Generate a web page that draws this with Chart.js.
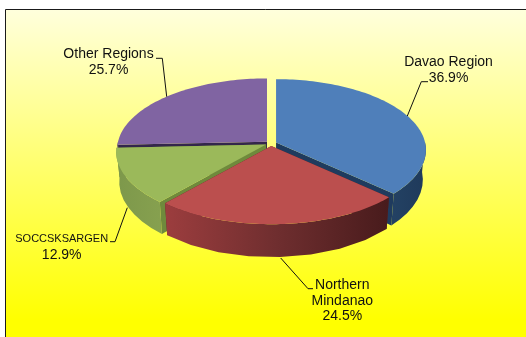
<!DOCTYPE html>
<html>
<head>
<meta charset="utf-8">
<title>Regional shares</title>
<script src="https://cdn.jsdelivr.net/npm/chart.js@4"></script>
<style>
html,body{margin:0;padding:0;background:#fff;overflow:hidden}
canvas{display:block}
</style>
</head>
<body>
<canvas id="pie" width="526" height="337"></canvas>
<script>
const regions = ["Davao Region","Northern Mindanao","SOCCSKSARGEN","Other Regions"];
const shares = [36.9,24.5,12.9,25.7];
const labelLines = [["Davao Region"],["Northern","Mindanao"],["SOCCSKSARGEN"],["Other Regions"]];

const topColors = ["#4f7fba","#bb4f4e","#9bb95a","#8064a2"];
const cutColors = ["#1f3b5e","#5a2223","#6f8a3c","#33264b"];
const wallStops = [
    ["#234163","#1f3a5b"],
    ["#9c3d3e","#6f2e2f","#481b1c"],
    ["#7d984b","#86a04f"],
    ["#5a4775","#4a3a62"]
];

// where each label sits and how its leader runs
const labelSpots = [
    {x:448.5,y:62,size:[14],pctSize:14,lead:[[428,81.7],[421.3,81.7],[407.3,116]]},
    {x:342.3,y:285,size:[14,14],pctSize:14,lead:[[313,288.7],[308,288.7],[280.7,258]]},
    {x:61.7,y:239,size:[11],pctSize:14,lead:[[110,241.7],[115,241.7],[127.3,207.7]]},
    {x:108.5,y:54,size:[14],pctSize:14,lead:[[156,58.3],[162.3,58.3],[166.7,96.7]]}
];

// tilted disc: perspective makes the front half bigger than the back
const cx = 271, cy = 143.5, rx = 149, ry = 70, persp = 0.105, depth = 29.5;
const explodeX = 5.5, explodeY = 2.5, baseShrink = 0.98;

function rimPoint(ox,oy,t,down){
    const u = Math.cos(t), v = Math.sin(t);
    const s = 1/(1-persp*v);
    if(down) return [ox+rx*u*s*baseShrink, oy+ry*v*s+depth*s];
    return [ox+rx*u*s, oy+ry*v*s];
}

function rimPath(ctx,ox,oy,a,b,down,moveFirst){
    const n = Math.max(8,Math.ceil((b-a)*40));
    for(let i=0;i<=n;i++){
        const p = rimPoint(ox,oy,a+(b-a)*i/n,down);
        if(i==0 && moveFirst) ctx.moveTo(p[0],p[1]); else ctx.lineTo(p[0],p[1]);
    }
}

function drawSlice(ctx,arc,i){
    const a = arc.startAngle, b = arc.endAngle, mid = (a+b)/2;
    const ox = cx+explodeX*Math.cos(mid), oy = cy+explodeY*Math.sin(mid);

    // radial cut faces
    ctx.fillStyle = cutColors[i];
    [a,b].forEach(t=>{
        const p = rimPoint(ox,oy,t,false), q = rimPoint(ox,oy,t,true);
        ctx.beginPath();
        ctx.moveTo(ox,oy);
        ctx.lineTo(p[0],p[1]);
        ctx.lineTo(q[0],q[1]);
        ctx.lineTo(ox,oy+depth);
        ctx.closePath();
        ctx.fill();
    });

    // outer wall, only the part that faces the viewer
    const wa = Math.max(a,0), wb = Math.min(b,Math.PI);
    if(wb>wa){
        const pa = rimPoint(ox,oy,wb), pb = rimPoint(ox,oy,wa);
        const g = ctx.createLinearGradient(pa[0],0,pb[0],0);
        wallStops[i].forEach((c,k)=>g.addColorStop(k/(wallStops[i].length-1),c));
        ctx.fillStyle = g;
        ctx.beginPath();
        rimPath(ctx,ox,oy,wa,wb,false,true);
        rimPath(ctx,ox,oy,wb,wa,true,false);
        ctx.closePath();
        ctx.fill();
    }

    // top face
    ctx.fillStyle = topColors[i];
    ctx.beginPath();
    ctx.moveTo(ox,oy);
    rimPath(ctx,ox,oy,a,b,false,false);
    ctx.closePath();
    ctx.fill();
}

const tiltedPie = {
    id:"tiltedPie",
    beforeDraw(chart){
        const ctx = chart.ctx;
        ctx.save();
        ctx.fillStyle = "#fff";
        ctx.fillRect(0,0,526,337);
        const g = ctx.createLinearGradient(0,10,0,320);
        g.addColorStop(0,"#ffffdc");
        g.addColorStop(0.5,"#ffff6e");
        g.addColorStop(1,"#ffff00");
        ctx.fillStyle = g;
        ctx.fillRect(5,9,521,328);
        ctx.strokeStyle = "#1a1a1a";
        ctx.lineWidth = 1;
        ctx.beginPath();
        ctx.moveTo(5.5,337);
        ctx.lineTo(5.5,9.5);
        ctx.lineTo(526,9.5);
        ctx.stroke();
        ctx.restore();
    },
    beforeDatasetsDraw(chart){
        const ctx = chart.ctx;
        const arcs = chart.getDatasetMeta(0).data;
        const order = arcs.map((arc,i)=>i).sort((p,q)=>
            Math.sin((arcs[p].startAngle+arcs[p].endAngle)/2)-Math.sin((arcs[q].startAngle+arcs[q].endAngle)/2));
        ctx.save();
        order.forEach(i=>drawSlice(ctx,arcs[i],i));
        ctx.restore();
        return false;
    },
    afterDraw(chart){
        const ctx = chart.ctx;
        ctx.save();
        ctx.fillStyle = "#111";
        ctx.strokeStyle = "#111";
        ctx.lineWidth = 1;
        ctx.textAlign = "center";
        ctx.textBaseline = "middle";
        labelSpots.forEach((spot,i)=>{
            let y = spot.y;
            labelLines[i].forEach((line,k)=>{
                ctx.font = spot.size[k]+'px "Liberation Sans"';
                ctx.fillText(line,spot.x,y);
                y += 15.7;
            });
            ctx.font = spot.pctSize+'px "Liberation Sans"';
            ctx.fillText(shares[i].toFixed(1)+"%",spot.x,y);
            ctx.beginPath();
            spot.lead.forEach((p,k)=>k?ctx.lineTo(p[0],p[1]):ctx.moveTo(p[0],p[1]));
            ctx.stroke();
        });
        ctx.restore();
    }
};

new Chart(document.getElementById("pie"),{
    type:"pie",
    data:{
        labels:regions,
        datasets:[{data:shares,backgroundColor:topColors}]
    },
    options:{
        responsive:false,
        animation:false,
        plugins:{legend:{display:false},tooltip:{enabled:false}}
    },
    plugins:[tiltedPie]
});
</script>
</body>
</html>
